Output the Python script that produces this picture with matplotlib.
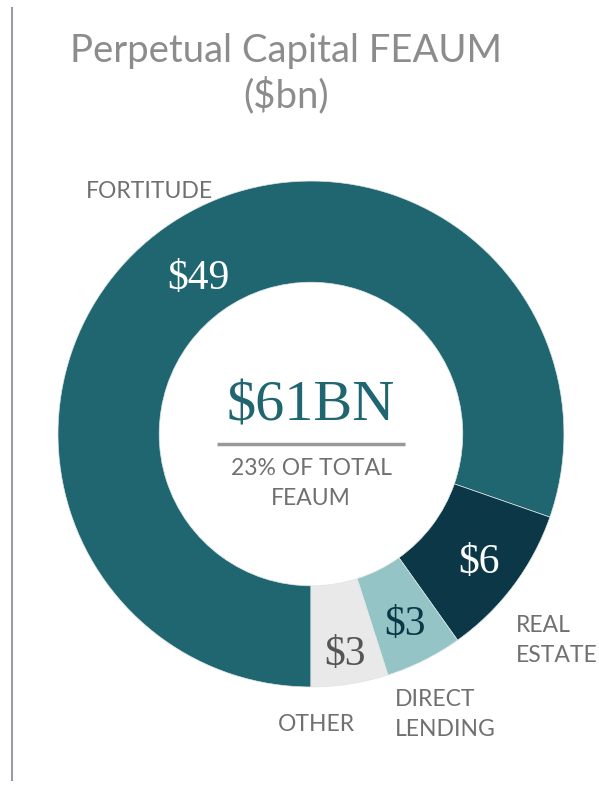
import matplotlib.pyplot as plt
import numpy as np

# data ($bn)
segments = ["FORTITUDE", "REAL\nESTATE", "DIRECT\nLENDING", "OTHER"]
values = [49, 6, 3, 3]
value_labels = ["$49", "$6", "$3", "$3"]
total_label = "$61BN"
sub_label = "23% OF TOTAL\nFEAUM"

colors = ["#1F6670", "#0B3747", "#94C4C6", "#E9E9E9"]
value_colors = ["white", "white", "#0B3747", "#555555"]
label_radius = [0.77, 0.83, 0.83, 0.87]

fig = plt.figure(figsize=(5.99, 7.93), dpi=100)
ax = fig.add_axes([0.0968, 0.1337, 0.8447, 0.638])

wedges, _ = ax.pie(values, colors=colors, startangle=270, counterclock=False,
                   radius=1.0, wedgeprops=dict(width=0.4, edgecolor="#DDE6E8", linewidth=0.5))
ax.set_xlim(-1, 1)
ax.set_ylim(-1, 1)
ax.set_aspect("equal")
ax.axis("off")

# value labels in the ring
for w, lab, c, r in zip(wedges, value_labels, value_colors, label_radius):
    ang = np.deg2rad((w.theta1 + w.theta2) / 2)
    ax.text(r * np.cos(ang), r * np.sin(ang) - 0.012, lab, ha="center", va="center",
            fontsize=30, color=c, family="Liberation Serif")

# category labels outside
lab_font = dict(fontsize=16.5, color="#707070", family="Lato", linespacing=1.55)
ax.text(-0.64, 0.96, segments[0], ha="center", va="center", **lab_font)
ax.text(0.81, -0.815, segments[1], ha="left", va="center", **lab_font)
ax.text(0.33, -1.11, segments[2], ha="left", va="center", **lab_font)
ax.text(0.02, -1.15, segments[3], ha="center", va="center", **lab_font)

# centre text
ax.text(0, 0.11, total_label, ha="center", va="center", fontsize=42,
        color="#1F6670", family="Liberation Serif")
ax.plot([-0.37, 0.37], [-0.04, -0.04], color="#999999", lw=2.5, solid_capstyle="butt")
ax.text(0, -0.195, sub_label, ha="center", va="center", fontsize=16.5,
        color="#707070", family="Lato", linespacing=1.5)

# title
fig.text(0.477, 0.907, "Perpetual Capital FEAUM\n($bn)", ha="center", va="center",
         fontsize=27.5, color="#8C8C8C", family="Lato", linespacing=1.25)

# left rule
fig.add_artist(plt.Line2D([12 / 599, 12 / 599], [1 - 8 / 793, 1 - 780 / 793],
                          color="#9A9AA8", lw=1.5))

fig.savefig("out.png", dpi=100)
